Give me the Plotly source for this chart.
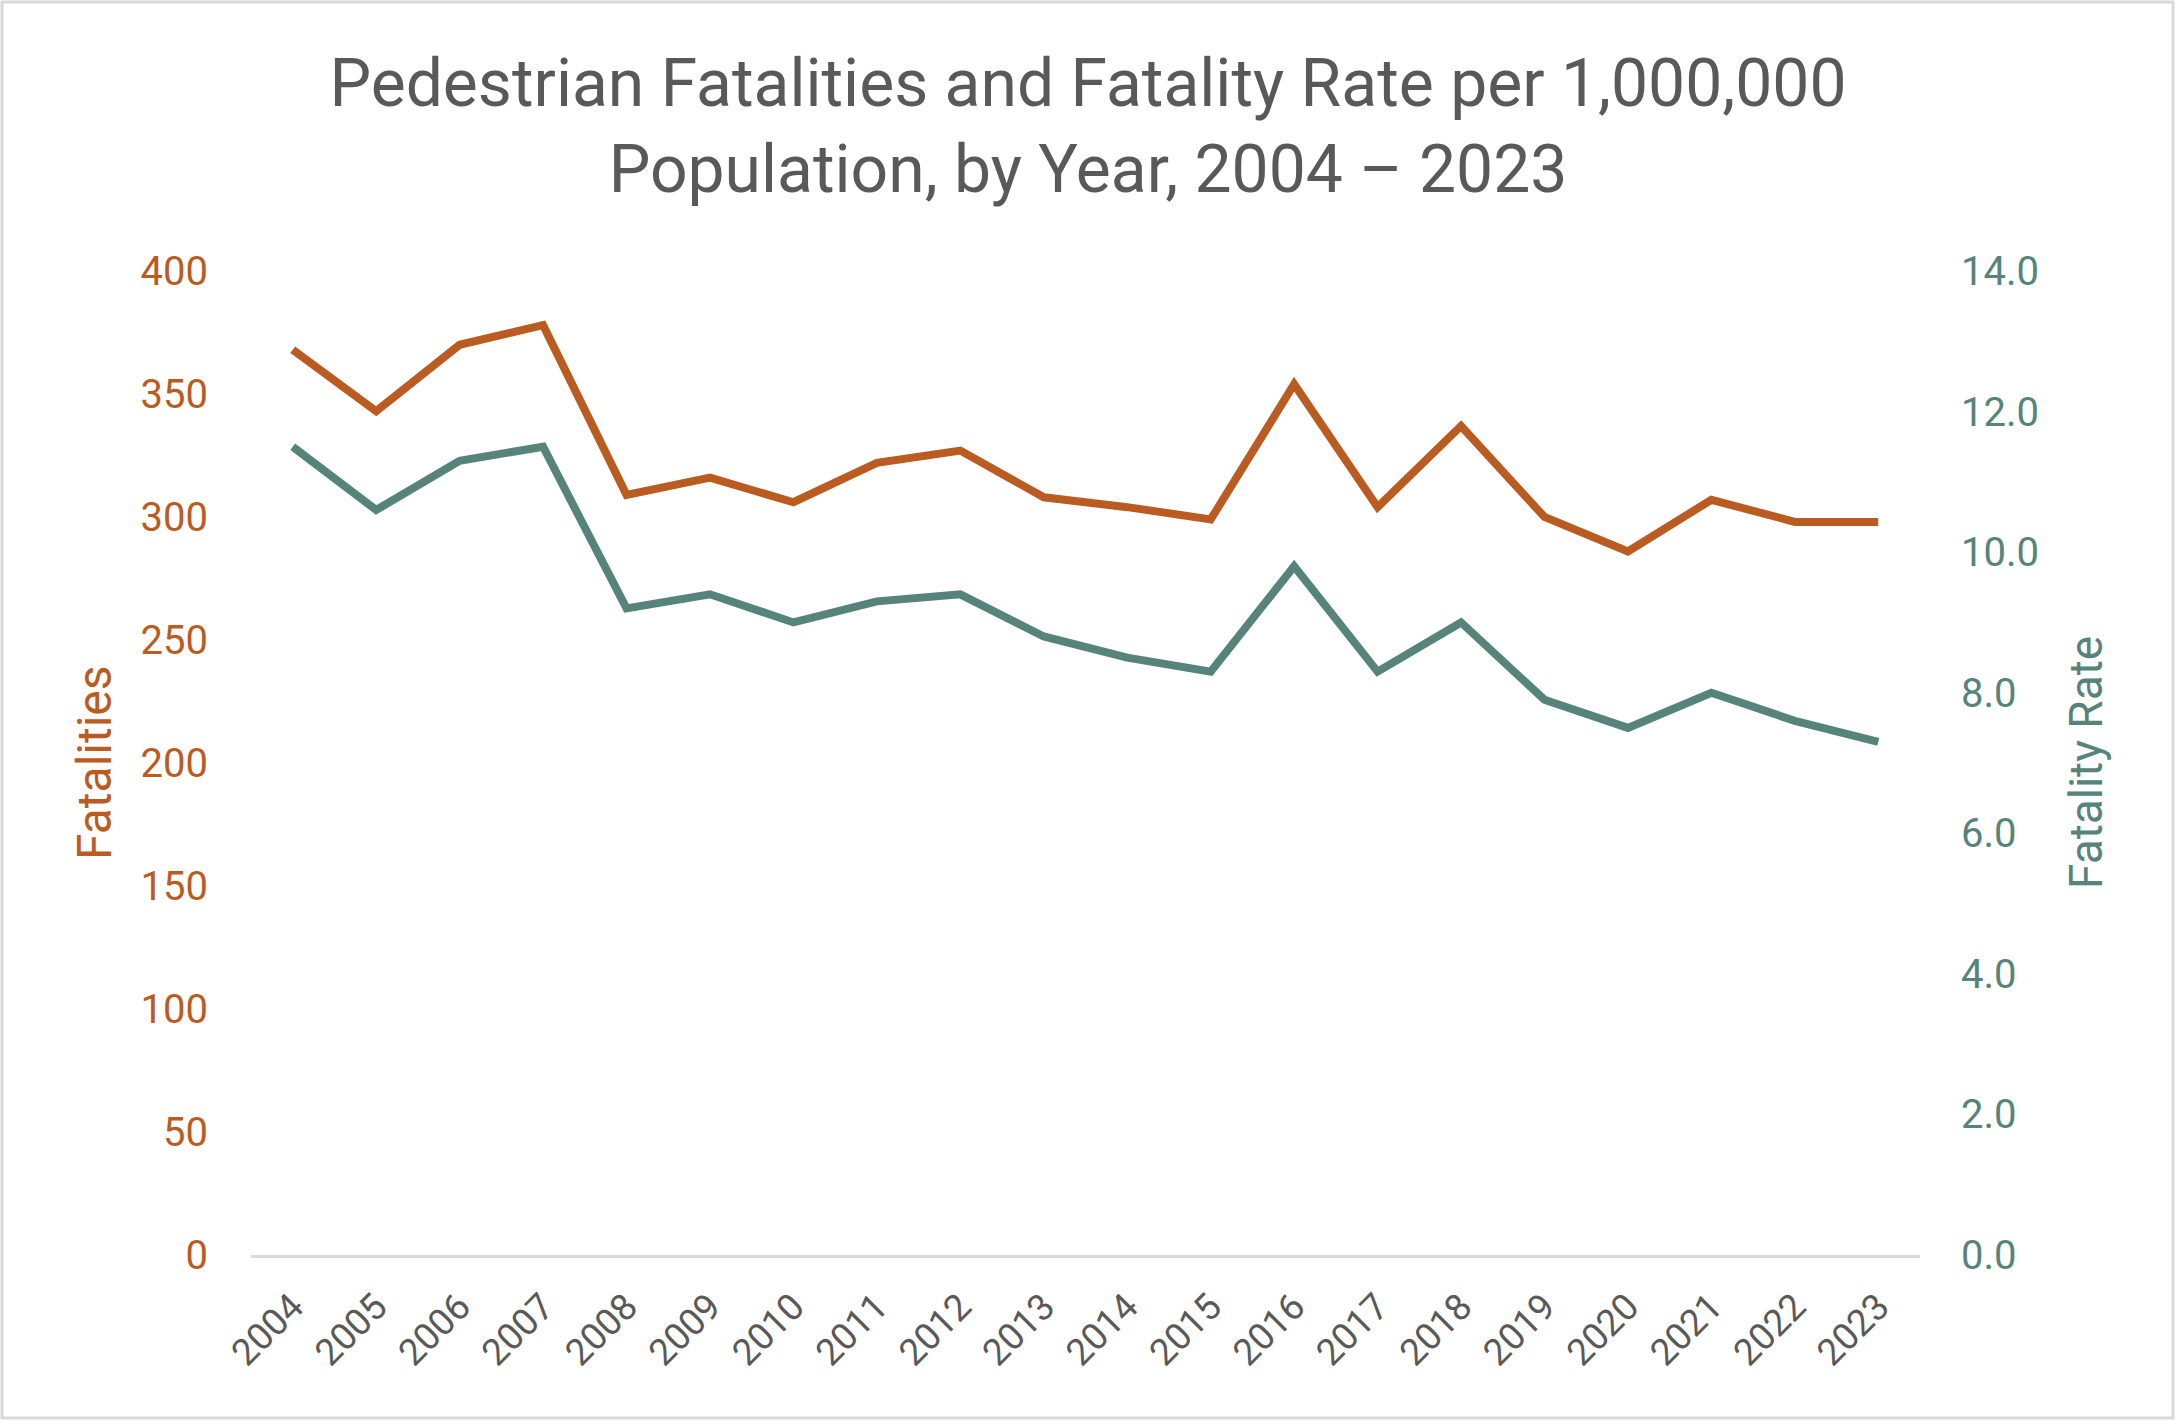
import plotly.graph_objects as go

# Data
years = [str(y) for y in range(2004, 2024)]
fatalities = [368, 343, 370, 378, 309, 316, 306, 322, 327, 308,
              304, 299, 354, 304, 337, 300, 286, 307, 298, 298]
fatality_rate = [11.5, 10.6, 11.3, 11.5, 9.2, 9.4, 9.0, 9.3, 9.4, 8.8,
                 8.5, 8.3, 9.8, 8.3, 9.0, 7.9, 7.5, 8.0, 7.6, 7.3]

ORANGE = '#BA5B22'
TEAL = '#56837A'
GREY = '#595959'
FONT = 'Roboto'

W, H = 2176, 1421
L, R, T, B = 251, 256, 271, 166
PW, PH = W - L - R, H - T - B


def px_x(x):
    return (x - L) / PW


def px_y(y):
    return (H - B - y) / PH


trace1 = go.Scatter(x=years, y=fatalities, mode='lines', name='Fatalities',
                    line=dict(color=ORANGE, width=8))
trace2 = go.Scatter(x=years, y=fatality_rate, mode='lines', name='Fatality Rate',
                    line=dict(color=TEAL, width=8), yaxis='y2')

layout = go.Layout(
    width=W, height=H,
    margin=dict(l=L, r=R, t=T, b=B),
    paper_bgcolor='white', plot_bgcolor='white',
    showlegend=False,
    font=dict(family=FONT, color=GREY),
    title=dict(text='Pedestrian Fatalities and Fatality Rate per 1,000,000<br>Population, by Year, 2004 \u2013 2023',
               x=0.5, xref='container', xanchor='center',
               y=1 - 106 / H, yref='container', yanchor='middle',
               font=dict(family=FONT, size=66, color=GREY)),
    xaxis=dict(type='category', range=[-0.5, 19.5], tickangle=-45,
               tickfont=dict(size=37, color=GREY), showgrid=False,
               showline=True, linecolor='#D9D9D9', linewidth=3,
               ticks='', ticklabelstandoff=12, fixedrange=True),
    yaxis=dict(range=[0, 400], dtick=50, showgrid=False, zeroline=False,
               tickfont=dict(size=40, color=ORANGE), ticks='',
               ticklabelstandoff=42),
    yaxis2=dict(range=[0, 14], dtick=2, tickformat='.1f', overlaying='y',
                side='right', showgrid=False, zeroline=False,
                tickfont=dict(size=40, color=TEAL), ticks='',
                ticklabelstandoff=40),
    annotations=[
        dict(text='Fatalities', textangle=-90, showarrow=False,
             xref='paper', yref='paper', x=px_x(94), y=px_y(763),
             xanchor='center', yanchor='middle',
             font=dict(family=FONT, size=48, color=ORANGE)),
        dict(text='Fatality Rate', textangle=-90, showarrow=False,
             xref='paper', yref='paper', x=px_x(2086), y=px_y(763),
             xanchor='center', yanchor='middle',
             font=dict(family=FONT, size=46, color=TEAL)),
    ],
    shapes=[dict(type='rect', xref='paper', yref='paper',
                 x0=px_x(2), x1=px_x(2173), y0=px_y(1418), y1=px_y(2),
                 line=dict(color='#D9D9D9', width=3), layer='below')],
)

fig = go.Figure(data=[trace1, trace2], layout=layout)
# drop the default page margin so the figure sits at the window corner
fig.write_html('out.html', config={'displayModeBar': False},
               post_script="document.body.style.margin='0';")
